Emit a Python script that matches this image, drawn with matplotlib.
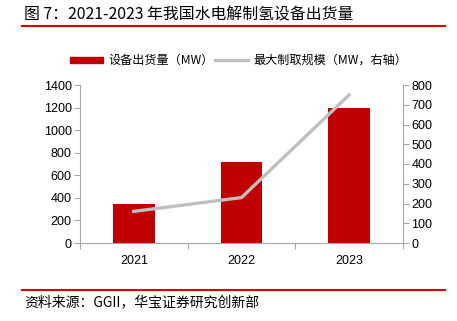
import matplotlib.pyplot as plt
from matplotlib.patches import Rectangle
from matplotlib.lines import Line2D

plt.rcParams['font.family'] = ['Liberation Sans', 'Noto Sans CJK SC', 'DejaVu Sans']

years = ['2021', '2022', '2023']
shipments = [350, 720, 1200]       # 设备出货量 (MW)
max_scale = [160, 230, 750]        # 最大制取规模 (MW, 右轴)

bar_color = '#C00000'
line_color = '#BFBFBF'
axis_color = '#A6A6A6'
cjk = ['Noto Sans CJK SC', 'DejaVu Sans']

fig = plt.figure(figsize=(4.57, 3.21), dpi=100)
ax = fig.add_axes([80 / 457, 1 - 243 / 321, 323 / 457, 158 / 321])
ax2 = ax.twinx()

x = list(range(len(years)))
ax.bar(x, shipments, width=0.39, color=bar_color, zorder=2)
ax2.plot(x, max_scale, color=line_color, lw=2.4, zorder=3)

ax.set_xlim(-0.5, 2.5)
ax.set_ylim(0, 1400)
ax.set_yticks(range(0, 1401, 200))
ax2.set_ylim(0, 800)
ax2.set_yticks(range(0, 801, 100))

ax.set_xticks([-0.5, 0.5, 1.5, 2.5])
ax.set_xticklabels([])
ax.set_xticks(x, minor=True)
ax.set_xticklabels(years, minor=True)
ax.tick_params(axis='x', which='minor', length=0, pad=9, labelsize=9)
ax.tick_params(axis='x', which='major', length=4, color=axis_color)

for a in (ax, ax2):
    a.spines['top'].set_visible(False)
    for s in ('left', 'right', 'bottom'):
        a.spines[s].set_color(axis_color)
    a.tick_params(axis='y', length=4, color=axis_color, labelsize=9, pad=2)
ax2.spines['left'].set_visible(False)
ax2.spines['bottom'].set_visible(False)
ax.spines['right'].set_visible(False)

# title and source
fig.text(24 / 457, 1 - 15 / 321, '图 7：2021-2023 年我国水电解制氢设备出货量',
         fontsize=11.4, va='center', ha='left', family=cjk, weight='light')
fig.add_artist(Line2D([22 / 457, 445 / 457], [1 - 26 / 321, 1 - 26 / 321],
                      color='#E00000', lw=1.5))
fig.add_artist(Line2D([22 / 457, 445 / 457], [1 - 290 / 321, 1 - 290 / 321],
                      color='#E00000', lw=1.5))
fig.text(24 / 457, 1 - 302 / 321, '资料来源：GGII，华宝证券研究创新部',
         fontsize=10, va='center', ha='left', family=cjk, weight='light')

# legend
ly = 1 - 60 / 321
fig.add_artist(Rectangle((70 / 457, ly - 3 / 321), 33 / 457, 6 / 321,
                         color=bar_color, transform=fig.transFigure))
fig.text(108 / 457, ly, '设备出货量（MW）', fontsize=8.7, va='center', family=cjk, weight='light')
fig.add_artist(Line2D([215 / 457, 248 / 457], [ly, ly], color=line_color, lw=2.4))
fig.text(253 / 457, ly, '最大制取规模（MW，右轴）', fontsize=8.7, va='center', family=cjk, weight='light')

fig.savefig('out.png', dpi=100)
